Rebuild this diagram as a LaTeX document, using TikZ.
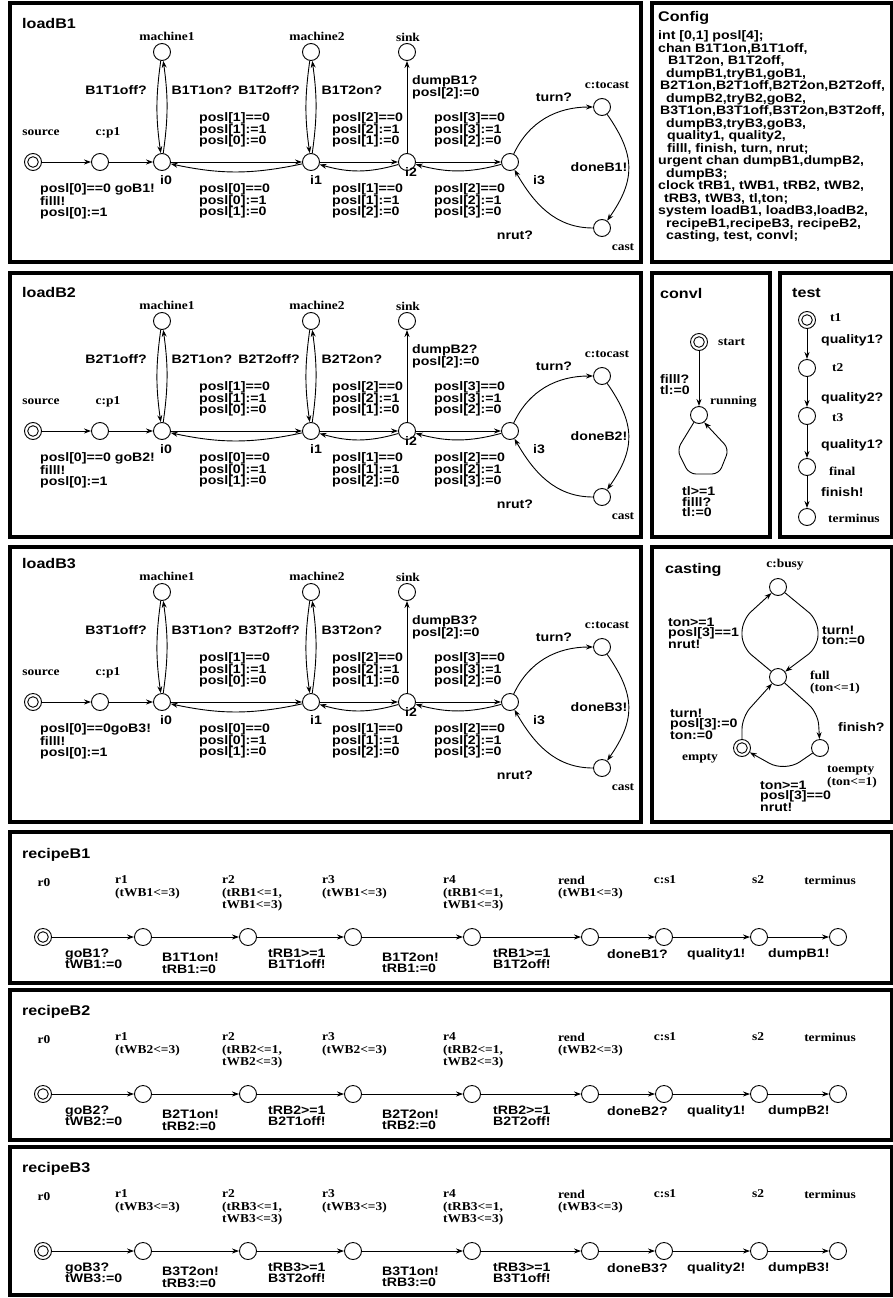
\documentclass[tikz,border=0pt]{standalone}
\usepackage{fontspec}
\usetikzlibrary{arrows.meta}
\newfontfamily\lsans[FakeStretch=1.15]{Liberation Sans Bold}
\newfontfamily\lserif[FakeStretch=1.12]{Liberation Serif Bold}
\tikzset{
  st/.style={circle, draw, line width=0.9pt, minimum size=17pt, inner sep=0pt},
  ini/.style={st, path picture={\draw[line width=0.9pt] (path picture bounding box.center) circle (5.3pt);}},
  nl/.style={font=\lserif\fontsize{12}{12.5}\selectfont, inner sep=0pt, align=left},
  el/.style={font=\lsans\fontsize{12.3}{11.5}\selectfont, inner sep=0pt, align=left},
  elt/.style={font=\lsans\fontsize{12.3}{10.5}\selectfont, inner sep=0pt, align=left},
  ttl/.style={font=\lsans\fontsize{14}{14}\selectfont, inner sep=0pt, anchor=west},
  panel/.style={draw, line width=3.2pt},
  e/.style={draw, line width=0.9pt, -{Stealth[length=7pt,width=5pt]}},
}
\newcommand\loadpanel[4]{%
\begin{scope}[shift={(0,-#2)}]
\node[ttl] (#1T) at (22,139) {loadB#3};
\node[ini] (#1src) at (33,0) {};
\node[st] (#1p1) at (100,0) {};
\node[st] (#1i0) at (162,0) {};
\node[st] (#1m1) at (162,110) {};
\node[st] (#1i1) at (311,0) {};
\node[st] (#1m2) at (311,110) {};
\node[st] (#1i2) at (407,0) {};
\node[st] (#1sk) at (407,110) {};
\node[st] (#1i3) at (510,0) {};
\node[st] (#1tc) at (602,55) {};
\node[st] (#1ca) at (602,-66) {};
\node[nl] (#1Lsrc) at (41,29) {source};
\node[nl] (#1Lp1) at (108,29) {c:p1};
\node[nl] (#1Lm1) at (167,126) {machine1};
\node[nl] (#1Lm2) at (317,126) {machine2};
\node[nl] (#1Lsk) at (408,125) {sink};
\node[nl] (#1Ltc) at (607,77) {c:tocast};
\node[nl] (#1Lca) at (623,-85) {cast};
\node[el] (#1Li0) at (166,-18) {i0};
\node[el] (#1Li1) at (316,-18) {i1};
\node[el] (#1Li2) at (411,-10) {i2};
\node[el] (#1Li3) at (539,-18) {i3};
\draw[e] (#1src) -- (#1p1);
\draw[e] (#1p1) -- (#1i0);
\draw[e] (#1m1) to[bend right=8] (#1i0);
\draw[e] (#1i0) to[bend right=8] (#1m1);
\draw[e] (#1m2) to[bend right=8] (#1i1);
\draw[e] (#1i1) to[bend right=8] (#1m2);
\draw[e] (#1i0) -- (#1i1);
\draw[e] (#1i1) to[bend left=12] (#1i0);
\draw[e] (#1i1) -- (#1i2);
\draw[e] (#1i2) to[bend left=16] (#1i1);
\draw[e] (#1i2) -- (#1i3);
\draw[e] (#1i3) to[bend left=15] (#1i2);
\draw[e] (#1i2) -- (#1sk);
\draw[e] (#1i3) to[out=65,in=180] (#1tc);
\draw[e] (#1tc) to[out=-55,in=55,looseness=1.2] (#1ca);
\draw[e] (#1ca) to[out=180,in=-60] (#1i3);
\node[el] (#1a1) at (116,72) {B#3T1off?};
\node[el] (#1a2) at (202,72) {B#3T1on?};
\node[el] (#1a3) at (269,72) {B#3T2off?};
\node[el] (#1a4) at (352,72) {B#3T2on?};
\node[el, anchor=north west] (#1u1) at (199,49.5) {posl[1]==0\\posl[1]:=1\\posl[0]:=0};
\node[el, anchor=north west] (#1d1) at (199,-21.5) {posl[0]==0\\posl[0]:=1\\posl[1]:=0};
\node[el, anchor=north west] (#1u2) at (332,49.5) {posl[2]==0\\posl[2]:=1\\posl[1]:=0};
\node[el, anchor=north west] (#1d2) at (332,-21.5) {posl[1]==0\\posl[1]:=1\\posl[2]:=0};
\node[el, anchor=north west] (#1u3) at (434,49.5) {posl[3]==0\\posl[3]:=1\\posl[2]:=0};
\node[el, anchor=north west] (#1d3) at (434,-21.5) {posl[2]==0\\posl[2]:=1\\posl[3]:=0};
\node[el, anchor=north west] (#1g) at (40,-21.5) {#4\\filll!\\posl[0]:=1};
\node[el, anchor=north west] (#1dp) at (412,86.5) {dumpB#3?\\posl[2]:=0};
\node[el] (#1tn) at (554,65) {turn?};
\node[el] (#1dn) at (599,-5) {doneB#3!};
\node[el] (#1nr) at (515,-73) {nrut?};
\end{scope}}
\newcommand\recipepanel[6]{%
\begin{scope}[shift={(0,-#2)}]
\node[ttl] (#1T) at (22,82) {recipeB#3};
\node[ini] (#1r0) at (43,0) {};
\node[st] (#1r1) at (143,0) {};
\node[st] (#1r2) at (248,0) {};
\node[st] (#1r3) at (353,0) {};
\node[st] (#1r4) at (472,0) {};
\node[st] (#1re) at (590,0) {};
\node[st] (#1s1) at (664,0) {};
\node[st] (#1s2) at (759,0) {};
\node[st] (#1tm) at (838,0) {};
\draw[e] (#1r0) -- (#1r1);
\draw[e] (#1r1) -- (#1r2);
\draw[e] (#1r2) -- (#1r3);
\draw[e] (#1r3) -- (#1r4);
\draw[e] (#1r4) -- (#1re);
\draw[e] (#1re) -- (#1s1);
\draw[e] (#1s1) -- (#1s2);
\draw[e] (#1s2) -- (#1tm);
\node[nl] (#1Lr0) at (44,54) {r0};
\node[nl, anchor=north west] (#1Lr1) at (115,61.5) {r1\\(tWB#3<=3)};
\node[nl, anchor=north west] (#1Lr2) at (222,61.5) {r2\\(tRB#3<=1,\\tWB#3<=3)};
\node[nl, anchor=north west] (#1Lr3) at (322,61.5) {r3\\(tWB#3<=3)};
\node[nl, anchor=north west] (#1Lr4) at (443,61.5) {r4\\(tRB#3<=1,\\tWB#3<=3)};
\node[nl, anchor=north west] (#1Lre) at (558,61.5) {rend\\(tWB#3<=3)};
\node[nl] (#1Ls1) at (665,57) {c:s1};
\node[nl] (#1Ls2) at (758,57) {s2};
\node[nl] (#1Ltm) at (830,57) {terminus};
\node[el, anchor=north west] (#1a1) at (65,-11.5) {goB#3?\\tWB#3:=0};
\node[el, anchor=north west] (#1a2) at (162,-16) {B#3T#4on!\\tRB#3:=0};
\node[el, anchor=north west] (#1a3) at (268,-11.5) {tRB#3>=1\\B#3T#4off!};
\node[el, anchor=north west] (#1a4) at (382,-15.5) {B#3T#5on!\\tRB#3:=0};
\node[el, anchor=north west] (#1a5) at (493,-11.5) {tRB#3>=1\\B#3T#5off!};
\node[el, anchor=west] (#1a6) at (607,-17) {doneB#3?};
\node[el, anchor=west] (#1a7) at (687,-17) {quality#6!};
\node[el, anchor=west] (#1a8) at (768,-17) {dumpB#3!};
\end{scope}}
\begin{document}
\begin{tikzpicture}[x=1pt,y=1pt]
\useasboundingbox (0,0) rectangle (893,-1298);
% panels
\draw[panel] (10,-3) rectangle (641,-262);
\draw[panel] (652,-3) rectangle (892,-262);
\draw[panel] (10,-273) rectangle (641,-537);
\draw[panel] (652,-273) rectangle (770,-537);
\draw[panel] (780,-273) rectangle (892,-537);
\draw[panel] (10,-547) rectangle (641,-822);
\draw[panel] (652,-547) rectangle (892,-822);
\draw[panel] (10,-832) rectangle (892,-983);
\draw[panel] (10,-990) rectangle (892,-1140);
\draw[panel] (10,-1147) rectangle (892,-1295);
% load panels
\loadpanel{a}{162}{1}{posl[0]==0 goB1!}
\loadpanel{b}{431}{2}{posl[0]==0 goB2!}
\loadpanel{c}{702}{3}{posl[0]==0goB3!}
% config
\node[ttl] (cfT) at (658,-18) {Config};
\node[el, anchor=north west, font=\lsans\fontsize{12.3}{12.5}\selectfont] (cfX) at (658,-30.5) {int [0,1] posl[4];\\chan B1T1on,B1T1off,\\\hspace*{10pt}B1T2on, B1T2off,\\\hspace*{8pt}dumpB1,tryB1,goB1,\\\hspace*{2pt}B2T1on,B2T1off,B2T2on,B2T2off,\\\hspace*{8pt}dumpB2,tryB2,goB2,\\\hspace*{2pt}B3T1on,B3T1off,B3T2on,B3T2off,\\\hspace*{8pt}dumpB3,tryB3,goB3,\\\hspace*{9pt}quality1, quality2,\\\hspace*{9pt}filll, finish, turn, nrut;\\urgent chan dumpB1,dumpB2,\\\hspace*{8pt}dumpB3;\\clock tRB1, tWB1, tRB2, tWB2,\\\hspace*{6pt}tRB3, tWB3, tl,ton;\\system loadB1, loadB3,loadB2,\\\hspace*{8pt}recipeB1,recipeB3, recipeB2,\\\hspace*{8pt}casting, test, convl;};
% convl
\node[ttl] (cvT) at (660,-293) {convl};
\node[ini] (cvs) at (699,-342) {};
\node[st] (cvr) at (699,-415) {};
\node[nl, anchor=west] (cvLs) at (718,-342) {start};
\node[nl, anchor=west] (cvLr) at (710,-402) {running};
\draw[e] (cvs) -- (cvr);
\draw[e, rounded corners=7pt] (cvr.235) -- (677,-450) -- (689,-474) -- (719,-474) -- (729,-449) -- (cvr.-55);
\node[elt, anchor=north west] (cva1) at (660,-374.5) {filll?\\tl:=0};
\node[elt, anchor=north west] (cva2) at (682,-486.5) {tl>=1\\filll?\\tl:=0};
% test
\node[ttl] (tsT) at (792,-293) {test};
\node[ini] (ts1) at (807,-320) {};
\node[st] (ts2) at (807,-368) {};
\node[st] (ts3) at (807,-416) {};
\node[st] (ts4) at (807,-467) {};
\node[st] (ts5) at (807,-517) {};
\node[nl, anchor=west] (tsL1) at (830,-318) {t1};
\node[nl, anchor=west] (tsL2) at (832,-368) {t2};
\node[nl, anchor=west] (tsL3) at (832,-418) {t3};
\node[nl, anchor=west] (tsL4) at (829,-471) {final};
\node[nl, anchor=west] (tsL5) at (828,-518) {terminus};
\draw[e] (ts1) -- (ts2);
\draw[e] (ts2) -- (ts3);
\draw[e] (ts3) -- (ts4);
\draw[e] (ts4) -- (ts5);
\node[el, anchor=west] (tsa1) at (821,-340) {quality1?};
\node[el, anchor=west] (tsa2) at (821,-398) {quality2?};
\node[el, anchor=west] (tsa3) at (821,-445) {quality1?};
\node[el, anchor=west] (tsa4) at (821,-492) {finish!};
% casting
\node[ttl] (csT) at (665,-570) {casting};
\node[st] (csb) at (778,-587) {};
\node[st] (csf) at (778,-677) {};
\node[ini] (cse) at (742,-748) {};
\node[st] (cst) at (820,-748) {};
\node[nl] (csLb) at (785,-565) {c:busy};
\node[nl, anchor=north west] (csLf) at (810,-670.5) {full\\(ton<=1)};
\node[nl] (csLe) at (700,-758) {empty};
\node[nl, anchor=north west] (csLt) at (827,-766) {toempty\\(ton<=1)};
\draw[e, rounded corners=12pt] (csf) -- (742,-647) -- (742,-620) -- (csb);
\draw[e, rounded corners=12pt] (csb) -- (818,-620) -- (818,-647) -- (csf);
\draw[e, rounded corners=12pt] (csf) -- (818,-713) -- (cst);
\draw[e, rounded corners=12pt] (cse) -- (742,-717) -- (csf);
\draw[e, rounded corners=18pt] (cst) -- (785,-772) -- (cse);
\node[elt, anchor=north west] (csa1) at (668,-617.5) {ton>=1\\posl[3]==1\\nrut!};
\node[elt, anchor=north west] (csa2) at (822,-625.5) {turn!\\ton:=0};
\node[elt, anchor=north west] (csa3) at (670,-708.5) {turn!\\posl[3]:=0\\ton:=0};
\node[elt, anchor=west] (csa4) at (838,-727) {finish?};
\node[elt, anchor=north west] (csa5) at (760,-780.5) {ton>=1\\posl[3]==0\\nrut!};
% recipes
\recipepanel{p}{937}{1}{1}{2}{1}
\recipepanel{q}{1094}{2}{1}{2}{1}
\recipepanel{r}{1251}{3}{2}{1}{2}
\end{tikzpicture}
\end{document}
